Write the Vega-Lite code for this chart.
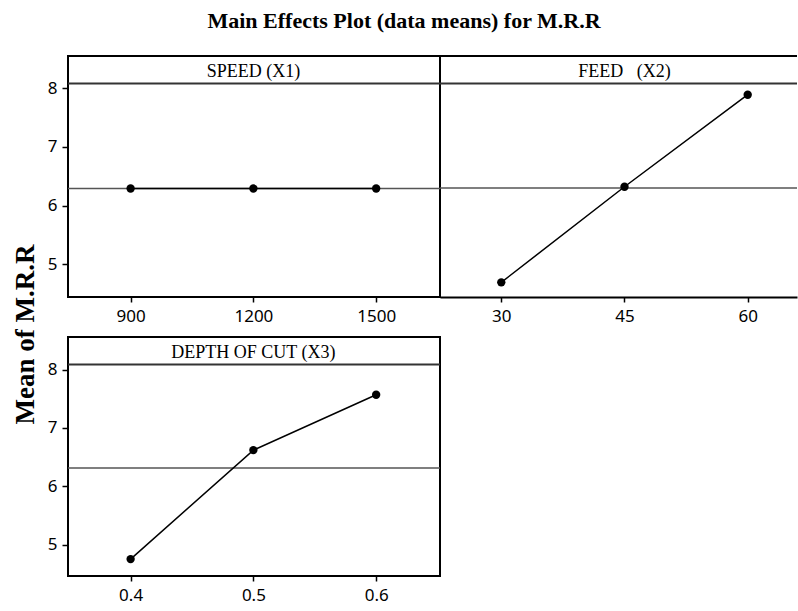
{
  "$schema": "https://vega.github.io/schema/vega-lite/v6.json",
  "padding": {"left": 10, "top": 10, "right": 0, "bottom": 0},
  "autosize": {"type": "pad"},
  "background": "white",
  "title": {"text": "Main Effects Plot (data means) for M.R.R", "font": "Liberation Serif", "fontSize": 22, "fontWeight": "bold", "color": "black", "anchor": "middle", "offset": 22},
  "datasets": {
    "effects": [
      {"factor": "SPEED (X1)", "level": 900, "mean": 6.29},
      {"factor": "SPEED (X1)", "level": 1200, "mean": 6.29},
      {"factor": "SPEED (X1)", "level": 1500, "mean": 6.29},
      {"factor": "FEED (X2)", "level": 30, "mean": 4.69},
      {"factor": "FEED (X2)", "level": 45, "mean": 6.32},
      {"factor": "FEED (X2)", "level": 60, "mean": 7.89},
      {"factor": "DEPTH OF CUT (X3)", "level": 0.4, "mean": 4.75},
      {"factor": "DEPTH OF CUT (X3)", "level": 0.5, "mean": 6.62},
      {"factor": "DEPTH OF CUT (X3)", "level": 0.6, "mean": 7.57}
    ]
  },
  "bounds": "flush",
  "columns": 2,
  "spacing": {"row": 40, "column": 0},
  "concat": [
    {
      "width": 372, "height": 241,
      "data": {"name": "effects"},
      "transform": [{"filter": "datum.factor === 'SPEED (X1)'"}],
      "layer": [
        {
          "mark": {"type": "rule", "color": "#555555", "strokeWidth": 1.5},
          "encoding": {"y": {"aggregate": "mean", "field": "mean", "type": "quantitative",
            "scale": {"domain": [4.44, 8.55], "nice": false, "zero": false},
            "axis": {"values": [5, 6, 7, 8], "format": "d", "title": "Mean of M.R.R", "titleFont": "Liberation Serif", "titleFontSize": 27, "titleFontWeight": "bold", "titleColor": "black", "titleX": -43, "titleY": 278, "titleBaseline": "middle", "titleAngle": 270}}}
        },
        {
          "mark": {"type": "line", "color": "black", "strokeWidth": 1.5},
          "encoding": {
            "x": {"field": "level", "type": "quantitative", "scale": {"domain": [747, 1656], "nice": false, "zero": false}, "axis": {"values": [900, 1200, 1500], "format": "d", "title": null}},
            "y": {"field": "mean", "type": "quantitative"}
          }
        },
        {
          "mark": {"type": "point", "filled": true, "color": "black", "size": 70, "opacity": 1},
          "encoding": {"x": {"field": "level", "type": "quantitative"}, "y": {"field": "mean", "type": "quantitative"}}
        },
        {
          "data": {"values": [{"label": "SPEED (X1)"}]},
          "mark": {"type": "rule", "color": "#333333", "strokeWidth": 2},
          "encoding": {"y": {"datum": 8.08}}
        },
        {
          "data": {"values": [{"label": "SPEED (X1)"}]},
          "mark": {"type": "text", "font": "Liberation Serif", "fontSize": 18, "color": "black", "baseline": "middle"},
          "encoding": {"x": {"datum": 1200}, "y": {"datum": 8.27}, "text": {"field": "label"}}
        }
      ]
    },
    {
      "width": 357, "height": 241,
      "view": {"stroke": null},
      "data": {"name": "effects"},
      "transform": [{"filter": "datum.factor === 'FEED (X2)'"}],
      "layer": [
        {
          "mark": {"type": "rule", "color": "#555555", "strokeWidth": 1.5},
          "encoding": {"y": {"aggregate": "mean", "field": "mean", "type": "quantitative",
            "scale": {"domain": [4.44, 8.55], "nice": false, "zero": false}, "axis": null}}
        },
        {
          "mark": {"type": "line", "color": "black", "strokeWidth": 1.5},
          "encoding": {
            "x": {"field": "level", "type": "quantitative", "scale": {"domain": [22.54, 66.0], "nice": false, "zero": false}, "axis": {"values": [30, 45, 60], "format": "d", "title": null, "domain": true, "domainColor": "black", "domainWidth": 2}},
            "y": {"field": "mean", "type": "quantitative"}
          }
        },
        {
          "mark": {"type": "point", "filled": true, "color": "black", "size": 70, "opacity": 1},
          "encoding": {"x": {"field": "level", "type": "quantitative"}, "y": {"field": "mean", "type": "quantitative"}}
        },
        {
          "data": {"values": [{"label": "FEED\u00a0\u00a0\u00a0(X2)"}]},
          "mark": {"type": "rule", "color": "black", "strokeWidth": 2},
          "encoding": {"y": {"datum": 8.55}}
        },
        {
          "data": {"values": [{"label": "FEED\u00a0\u00a0\u00a0(X2)"}]},
          "mark": {"type": "rule", "color": "#333333", "strokeWidth": 2},
          "encoding": {"y": {"datum": 8.08}}
        },
        {
          "data": {"values": [{"label": "FEED\u00a0\u00a0\u00a0(X2)"}]},
          "mark": {"type": "text", "font": "Liberation Serif", "fontSize": 18, "color": "black", "baseline": "middle"},
          "encoding": {"x": {"datum": 45}, "y": {"datum": 8.27}, "text": {"field": "label"}}
        }
      ]
    },
    {
      "width": 372, "height": 239,
      "data": {"name": "effects"},
      "transform": [{"filter": "datum.factor === 'DEPTH OF CUT (X3)'"}],
      "layer": [
        {
          "mark": {"type": "rule", "color": "#555555", "strokeWidth": 1.5},
          "encoding": {"y": {"aggregate": "mean", "field": "mean", "type": "quantitative",
            "scale": {"domain": [4.46, 8.56], "nice": false, "zero": false},
            "axis": {"values": [5, 6, 7, 8], "format": "d", "title": null}}}
        },
        {
          "mark": {"type": "line", "color": "black", "strokeWidth": 1.5},
          "encoding": {
            "x": {"field": "level", "type": "quantitative", "scale": {"domain": [0.349, 0.652], "nice": false, "zero": false}, "axis": {"values": [0.4, 0.5, 0.6], "format": ".1f", "title": null}},
            "y": {"field": "mean", "type": "quantitative"}
          }
        },
        {
          "mark": {"type": "point", "filled": true, "color": "black", "size": 70, "opacity": 1},
          "encoding": {"x": {"field": "level", "type": "quantitative"}, "y": {"field": "mean", "type": "quantitative"}}
        },
        {
          "data": {"values": [{"label": "DEPTH OF CUT (X3)"}]},
          "mark": {"type": "rule", "color": "#333333", "strokeWidth": 2},
          "encoding": {"y": {"datum": 8.09}}
        },
        {
          "data": {"values": [{"label": "DEPTH OF CUT (X3)"}]},
          "mark": {"type": "text", "font": "Liberation Serif", "fontSize": 18, "color": "black", "baseline": "middle"},
          "encoding": {"x": {"datum": 0.5}, "y": {"datum": 8.28}, "text": {"field": "label"}}
        }
      ]
    }
  ],
  "config": {
    "view": {"stroke": "black", "strokeWidth": 2},
    "axis": {"grid": false, "domain": false, "labelFont": "Noto Sans", "labelFontSize": 17, "labelColor": "black", "tickColor": "black", "tickSize": 6, "tickWidth": 1.5, "labelPadding": 5},
    "axisX": {"labelPadding": 6, "tickSize": 5}
  }
}
